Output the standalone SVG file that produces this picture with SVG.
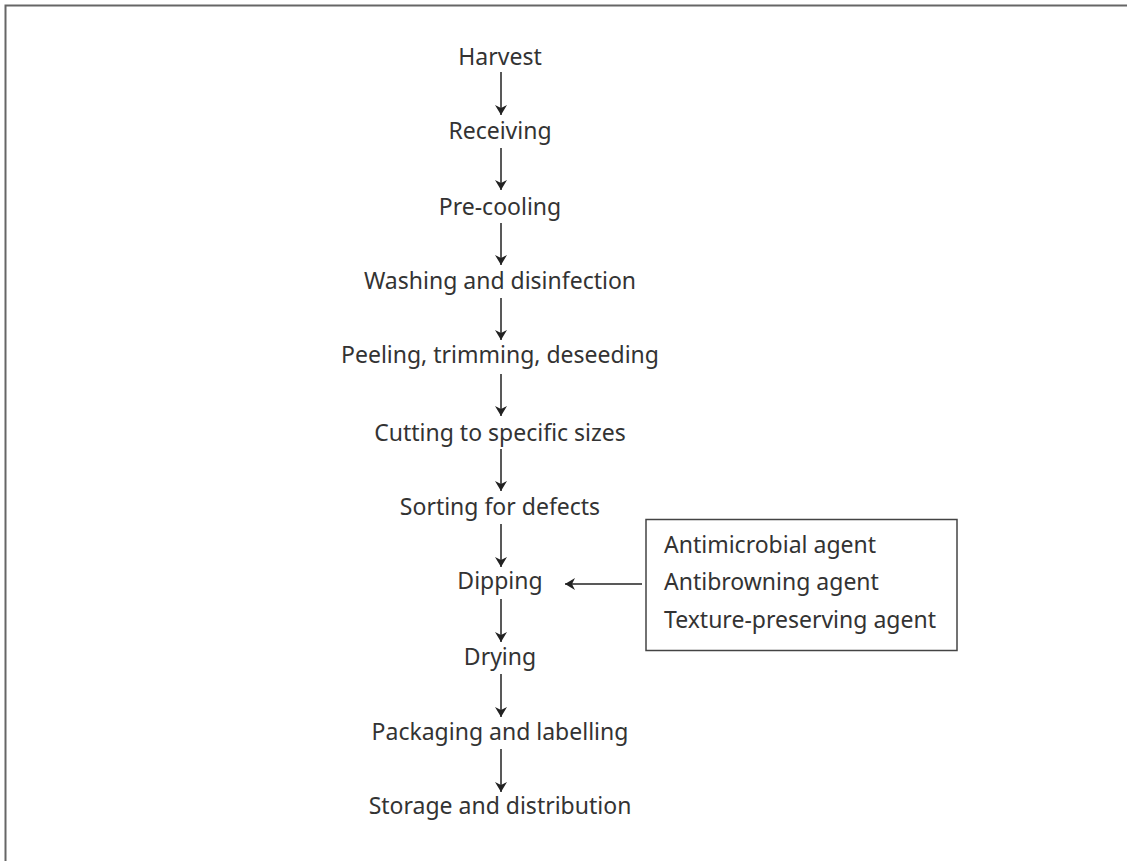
<svg xmlns="http://www.w3.org/2000/svg" width="1127" height="861" viewBox="0 0 1127 861">
<defs>
<marker id="ah" viewBox="0 0 10 12" refX="10" refY="6" markerWidth="10" markerHeight="12" markerUnits="userSpaceOnUse" orient="auto">
<path d="M0,0 L10,6 L0,12 L3,6 Z" fill="#222"/>
</marker>
<style>
.t{font-family:"Noto Sans","Open Sans",sans-serif;font-size:23px;fill:#333;text-anchor:middle}
.l{font-family:"Noto Sans","Open Sans",sans-serif;font-size:23px;fill:#333}
.c{stroke:#222;stroke-width:1.5;fill:none;marker-end:url(#ah)}
</style>
</defs>
<rect width="1127" height="861" fill="#fff"/>
<path d="M5.5,861 V5.5 H1127" fill="none" stroke="#666" stroke-width="2"/>
<g id="n1"><text class="t" x="500" y="65">Harvest</text></g>
<g id="n2"><text class="t" x="500" y="139">Receiving</text></g>
<g id="n3"><text class="t" x="500" y="215">Pre-cooling</text></g>
<g id="n4"><text class="t" x="500" y="289">Washing and disinfection</text></g>
<g id="n5"><text class="t" x="500" y="363">Peeling, trimming, deseeding</text></g>
<g id="n6"><text class="t" x="500" y="441">Cutting to specific sizes</text></g>
<g id="n7"><text class="t" x="500" y="515">Sorting for defects</text></g>
<g id="n8"><text class="t" x="500" y="589">Dipping</text></g>
<g id="n9"><text class="t" x="500" y="665">Drying</text></g>
<g id="n10"><text class="t" x="500" y="740">Packaging and labelling</text></g>
<g id="n11"><text class="t" x="500" y="814">Storage and distribution</text></g>
<g id="agents">
<rect x="646" y="519.5" width="311" height="131" fill="none" stroke="#444" stroke-width="1.5"/>
<text class="l" x="664" y="553">Antimicrobial agent</text>
<text class="l" x="664" y="590">Antibrowning agent</text>
<text class="l" x="664" y="628">Texture-preserving agent</text>
</g>
<g id="connectors">
<path class="c" d="M501,72 V115"/>
<path class="c" d="M501,148 V190"/>
<path class="c" d="M501,223 V265"/>
<path class="c" d="M501,298 V340"/>
<path class="c" d="M501,374 V416"/>
<path class="c" d="M501,449 V491"/>
<path class="c" d="M501,524 V567"/>
<path class="c" d="M501,599 V642"/>
<path class="c" d="M501,674 V717"/>
<path class="c" d="M501,749 V792"/>
<path class="c" d="M642,584 H565"/>
</g>
</svg>
